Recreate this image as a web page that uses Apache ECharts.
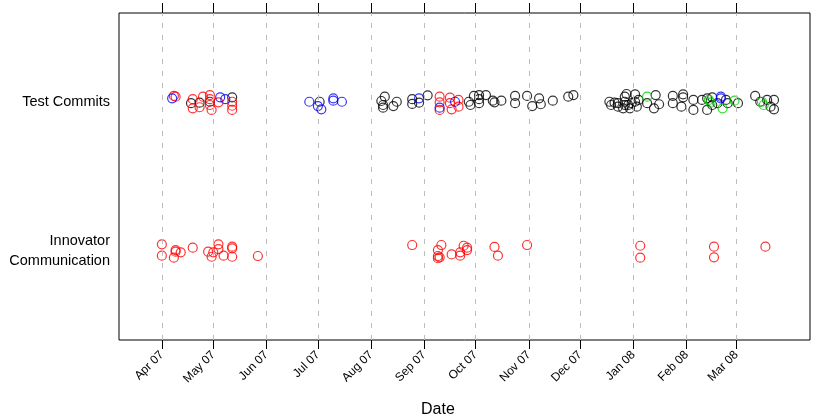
<!DOCTYPE html>
<html>
<head>
<meta charset="utf-8">
<script src="https://cdn.jsdelivr.net/npm/echarts@6/dist/echarts.min.js"></script>
<style>
  html, body { margin: 0; padding: 0; background: #fff; }
  #main { width: 817px; height: 418px; }
</style>
</head>
<body>
<div id="main"></div>
<script>
// categories (y) and month ticks (x)
var categories = ['Innovator\nCommunication', 'Test Commits'];
var monthStarts = ['2007-04-01', '2007-05-01', '2007-06-01', '2007-07-01', '2007-08-01', '2007-09-01',
                   '2007-10-01', '2007-11-01', '2007-12-01', '2008-01-01', '2008-02-01', '2008-03-01'];
var monthLabels = ['Apr 07', 'May 07', 'Jun 07', 'Jul 07', 'Aug 07', 'Sep 07',
                   'Oct 07', 'Nov 07', 'Dec 07', 'Jan 08', 'Feb 08', 'Mar 08'];
var xRange = ['2007-03-07', '2008-04-13'];

// [date, jitter] pairs
var commitsBlack = [
    ['2007-04-18', -0.007], ['2007-04-23', -0.003], ['2007-04-29', 0.003], ['2007-05-12', 0.033],
    ['2007-07-02', 0.003],
    ['2007-08-07', 0.008], ['2007-08-09', 0.037], ['2007-08-08', -0.019], ['2007-08-08', -0.037],
    ['2007-08-14', -0.026], ['2007-08-16', 0.003], ['2007-08-25', 0.020], ['2007-08-25', -0.012],
    ['2007-08-29', -0.003], ['2007-09-03', 0.046], ['2007-09-27', 0.003], ['2007-09-28', -0.019],
    ['2007-09-30', 0.042], ['2007-10-03', 0.048], ['2007-10-03', 0.020], ['2007-10-03', -0.007],
    ['2007-10-07', 0.048], ['2007-10-11', 0.010], ['2007-10-12', -0.001], ['2007-10-16', 0.010],
    ['2007-10-24', 0.042], ['2007-10-24', -0.007], ['2007-10-31', 0.042], ['2007-11-03', -0.026],
    ['2007-11-07', 0.026], ['2007-11-08', -0.014], ['2007-11-15', 0.010], ['2007-11-24', 0.037],
    ['2007-11-27', 0.048],
    ['2007-12-18', 0.003], ['2007-12-19', -0.019], ['2007-12-21', -0.003], ['2007-12-23', -0.030],
    ['2007-12-23', -0.007], ['2007-12-26', -0.041], ['2007-12-27', 0.003], ['2007-12-27', 0.037],
    ['2007-12-28', 0.055], ['2007-12-29', -0.019], ['2007-12-30', -0.041], ['2007-12-31', -0.007],
    ['2007-12-27', -0.019], ['2008-01-02', 0.053], ['2008-01-02', 0.003], ['2008-01-04', 0.015],
    ['2008-01-03', -0.030], ['2008-01-09', -0.007], ['2008-01-13', -0.041], ['2008-01-14', 0.048],
    ['2008-01-16', -0.014], ['2008-01-24', 0.042], ['2008-01-24', -0.007], ['2008-01-29', -0.030],
    ['2008-01-30', 0.053], ['2008-01-30', 0.033], ['2008-02-05', 0.015], ['2008-02-05', -0.052],
    ['2008-02-10', 0.015], ['2008-02-13', 0.026], ['2008-02-13', -0.052], ['2008-02-16', 0.033],
    ['2008-02-16', -0.019], ['2008-02-19', -0.007], ['2008-02-24', 0.015], ['2008-02-25', -0.007],
    ['2008-03-02', -0.007], ['2008-03-12', 0.042], ['2008-03-15', 0.003], ['2008-03-19', 0.015],
    ['2008-03-23', 0.015], ['2008-03-23', -0.048], ['2008-03-21', -0.030]
];
var commitsRed = [
    ['2007-04-08', 0.042], ['2007-04-09', 0.037], ['2007-04-19', 0.020], ['2007-04-19', -0.041],
    ['2007-04-23', -0.034], ['2007-04-25', 0.037], ['2007-04-29', 0.048], ['2007-04-29', 0.020],
    ['2007-04-29', -0.019], ['2007-04-30', -0.052], ['2007-05-04', -0.001], ['2007-05-12', 0.003],
    ['2007-05-12', -0.024], ['2007-05-12', -0.052],
    ['2007-09-10', 0.037], ['2007-09-10', -0.001], ['2007-09-10', -0.052], ['2007-09-16', 0.030],
    ['2007-09-16', -0.007], ['2007-09-17', -0.048], ['2007-09-21', 0.015], ['2007-09-21', -0.030]
];
var commitsBlue = [
    ['2007-04-07', 0.026], ['2007-05-05', 0.033], ['2007-05-08', 0.020], ['2007-06-26', 0.003],
    ['2007-07-01', -0.026], ['2007-07-03', -0.048], ['2007-07-10', 0.026], ['2007-07-10', 0.010],
    ['2007-07-15', 0.003], ['2007-08-29', 0.026], ['2007-09-10', -0.037], ['2007-09-19', 0.003],
    ['2008-02-21', 0.037], ['2008-02-21', 0.026]
];
var commitsGreen = [
    ['2008-01-09', 0.037], ['2008-02-14', 0.015], ['2008-02-15', -0.003], ['2008-02-22', -0.041],
    ['2008-02-29', 0.010], ['2008-03-16', 0.003], ['2008-03-17', -0.019]
];
var innovatorRed = [
    ['2007-04-01', 0.044], ['2007-04-01', -0.033], ['2007-04-08', -0.046], ['2007-04-09', 0.005],
    ['2007-04-09', -0.006], ['2007-04-12', -0.010], ['2007-04-19', 0.021], ['2007-04-28', -0.006],
    ['2007-04-30', -0.040], ['2007-05-01', -0.010], ['2007-05-04', 0.044], ['2007-05-04', 0.012],
    ['2007-05-07', -0.033], ['2007-05-12', 0.028], ['2007-05-12', 0.017], ['2007-05-12', -0.040],
    ['2007-05-27', -0.035],
    ['2007-08-25', 0.039], ['2007-09-11', 0.039], ['2007-09-09', 0.005], ['2007-09-09', -0.035],
    ['2007-09-10', -0.044], ['2007-09-09', -0.050], ['2007-09-17', -0.024], ['2007-09-22', -0.010],
    ['2007-09-22', -0.033], ['2007-09-24', 0.034], ['2007-09-26', 0.021], ['2007-09-26', 0.005],
    ['2007-10-12', 0.026], ['2007-10-14', -0.033], ['2007-10-31', 0.039],
    ['2008-01-05', 0.034], ['2008-01-05', -0.046], ['2008-02-17', 0.028], ['2008-02-17', -0.044],
    ['2008-03-18', 0.028]
];

function toTime(s) {
    var p = s.split('-');
    return new Date(+p[0], +p[1] - 1, +p[2]).getTime();
}

var monthTimes = monthStarts.map(toTime);

function points(list, row) {
    return list.map(function (d) {
        return [toTime(d[0]), row + d[1]];
    });
}

function dots(name, list, row, color) {
    return {
        type: 'scatter',
        name: name,
        data: points(list, row),
        symbol: 'circle',
        symbolSize: 9,
        z: 3,
        itemStyle: {
            color: 'rgba(0,0,0,0)',
            borderColor: color,
            borderWidth: 1.2
        }
    };
}

var myChart = echarts.init(document.getElementById('main'));

// timestamps on a plain value axis, so month ticks can be placed exactly
myChart.setOption(option = {
    animation: false,
    textStyle: { fontFamily: 'Liberation Sans, Arial, sans-serif' },
    grid: {
        left: 119,
        right: 7,
        top: 13,
        bottom: 78,
        show: true,
        borderColor: '#000',
        borderWidth: 1,
        backgroundColor: 'rgba(0,0,0,0)'
    },
    xAxis: [
        {
            type: 'value',
            min: toTime(xRange[0]),
            max: toTime(xRange[1]),
            position: 'bottom',
            axisLine: { show: false },
            splitLine: { show: false },
            axisTick: {
                customValues: monthTimes,
                length: 9,
                lineStyle: { color: '#000' }
            },
            axisLabel: {
                customValues: monthTimes,
                rotate: 45,
                margin: 13,
                fontSize: 12,
                color: '#000',
                formatter: function (v) {
                    var i = monthTimes.indexOf(v);
                    return i >= 0 ? monthLabels[i] : '';
                }
            }
        },
        {
            type: 'value',
            min: toTime(xRange[0]),
            max: toTime(xRange[1]),
            position: 'top',
            axisLine: { show: false },
            splitLine: { show: false },
            axisTick: {
                customValues: monthTimes,
                length: 10,
                lineStyle: { color: '#000' }
            },
            axisLabel: { show: false }
        }
    ],
    yAxis: {
        type: 'value',
        min: 0.4,
        max: 2.6,
        axisLine: { show: false },
        splitLine: { show: false },
        axisTick: { show: false },
        axisLabel: {
            customValues: [1, 2],
            margin: 9,
            fontSize: 14.5,
            lineHeight: 20,
            padding: [6, 0, 0, 0],
            color: '#000',
            align: 'right',
            formatter: function (v) {
                return categories[Math.round(v) - 1];
            }
        }
    },
    graphic: [{
        type: 'text',
        left: 421,
        top: 402,
        style: {
            text: 'Date',
            fontSize: 16,
            fill: '#000',
            fontFamily: 'Liberation Sans, Arial, sans-serif'
        }
    }],
    series: [
        {
            type: 'scatter',
            name: 'months',
            data: [],
            z: 1,
            markLine: {
                silent: true,
                symbol: 'none',
                label: { show: false },
                lineStyle: { color: '#bdbdbd', type: [5, 7], width: 1 },
                data: monthTimes.map(function (t) { return { xAxis: t }; })
            }
        },
        dots('Test Commits', commitsBlack, 2, '#000000'),
        dots('Test Commits', commitsRed, 2, '#ff0000'),
        dots('Test Commits', commitsBlue, 2, '#0000ff'),
        dots('Test Commits', commitsGreen, 2, '#00d000'),
        dots('Innovator Communication', innovatorRed, 1, '#ff0000')
    ]
});
</script>
</body>
</html>
